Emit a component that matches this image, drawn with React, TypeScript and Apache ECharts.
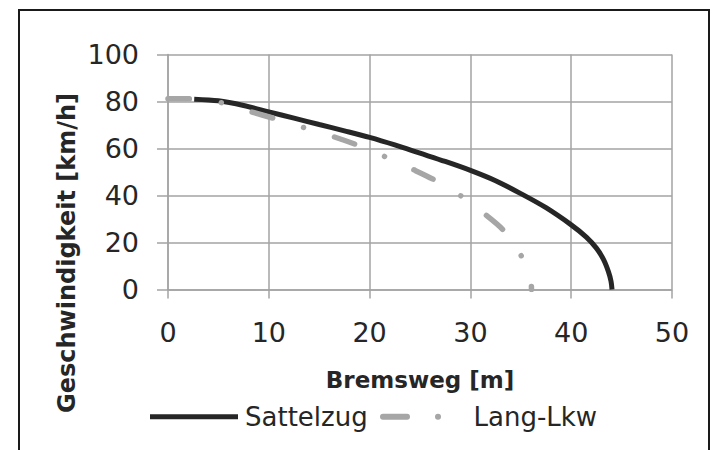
import { useEffect, useRef } from "react";
import * as echarts from "echarts";

// Bremsweg [m] vs. Geschwindigkeit [km/h]
const sattelzug: [number, number][] = [
  [2.6, 81.0], [5, 80.3], [7.5, 78.3], [10, 75.6], [12.5, 72.9], [15, 70.2],
  [17.5, 67.5], [20, 64.7], [22.5, 61.5], [25, 58.0], [27.5, 54.5], [30, 50.7],
  [32.5, 46.3], [35, 40.8], [37.5, 34.8], [40, 27.5], [41.5, 22.3], [42.5, 17.6],
  [43.2, 12.8], [43.7, 7.5], [43.95, 3.5], [44.05, 0],
];

const langLkw: [number, number][] = [
  [0, 81.2], [2.4, 81.1], [5.4, 79.4], [8.1, 75.8], [10.6, 72.7], [13.4, 69.0],
  [16.3, 65.2], [18.7, 61.6], [21.5, 56.6], [24.2, 51.3], [26.4, 46.7], [29.0, 40.0],
  [31.3, 32.5], [33.3, 25.1], [35.0, 14.7], [36.0, 3.3], [36.06, 0],
];

const seriesNames = ["Sattelzug", "Lang-Lkw"];
const xAxisTitle = "Bremsweg [m]";
const yAxisTitle = "Geschwindigkeit [km/h]";
const xMin = 0, xMax = 50, xStep = 10;
const yMin = 0, yMax = 100, yStep = 20;

const FONT = "'DejaVu Sans', sans-serif";
const GRID_COLOR = "#a3a3a3";
const TEXT = "#262626";
const BLACK = "#262626";
const GREY = "#a6a6a6";
const DASH = [21, 32.5, 0.01, 32.5];

export default function App() {
  const ref = useRef<HTMLDivElement>(null);
  useEffect(() => {
    const chart = echarts.init(ref.current!, null, { renderer: "svg" });
    chart.setOption({
      animation: false,
      backgroundColor: "#ffffff",
      grid: { left: 168, right: 40, top: 54.5, bottom: 160.5, containLabel: false },
      xAxis: {
        type: "value",
        min: xMin,
        max: xMax,
        interval: xStep,
        name: xAxisTitle,
        nameLocation: "middle",
        nameGap: 79,
        nameTextStyle: { fontFamily: FONT, fontSize: 23, fontWeight: "bold", color: TEXT },
        axisLine: { show: true, lineStyle: { color: GRID_COLOR, width: 1.5 } },
        axisTick: { show: true, length: 9, lineStyle: { color: GRID_COLOR, width: 1.5 } },
        axisLabel: { margin: 29, fontFamily: FONT, fontSize: 27, color: TEXT },
        splitLine: { show: true, lineStyle: { color: GRID_COLOR, width: 1.5 } },
      },
      yAxis: {
        type: "value",
        min: yMin,
        max: yMax,
        interval: yStep,
        axisLine: { show: true, lineStyle: { color: GRID_COLOR, width: 1.5 } },
        axisTick: { show: true, length: 11, lineStyle: { color: GRID_COLOR, width: 1.5 } },
        axisLabel: { margin: 29, fontFamily: FONT, fontSize: 27, color: TEXT },
        splitLine: { show: true, lineStyle: { color: GRID_COLOR, width: 1.5 } },
      },
      series: [
        {
          name: seriesNames[0],
          type: "line",
          data: sattelzug,
          symbol: "none",
          smooth: 0.3,
          lineStyle: { color: BLACK, width: 5 },
          itemStyle: { color: BLACK },
          z: 2,
        },
        {
          name: seriesNames[1],
          type: "line",
          data: langLkw,
          symbol: "none",
          smooth: 0.3,
          lineStyle: { color: GREY, width: 5.5, type: DASH, cap: "round", dashOffset: 0 },
          itemStyle: { color: GREY },
          z: 3,
        },
      ],
      graphic: [
        {
          type: "rect",
          silent: true,
          z: 0,
          shape: { x: 19, y: 10, width: 690, height: 470 },
          style: { fill: "none", stroke: "#1a1a1a", lineWidth: 2 },
        },
        {
          type: "text",
          x: 67,
          y: 253,
          rotation: Math.PI / 2,
          style: {
            text: yAxisTitle,
            fontFamily: FONT,
            fontSize: 24,
            fontWeight: "bold",
            fill: TEXT,
            align: "center",
            verticalAlign: "middle",
          },
        },
        {
          type: "line",
          shape: { x1: 150, y1: 416.7, x2: 238, y2: 416.7 },
          style: { stroke: BLACK, lineWidth: 5 },
        },
        {
          type: "text",
          x: 245,
          y: 417,
          style: {
            text: seriesNames[0],
            fontFamily: FONT,
            fontSize: 26,
            fill: TEXT,
            align: "left",
            verticalAlign: "middle",
          },
        },
        {
          type: "line",
          shape: { x1: 383, y1: 416.7, x2: 468, y2: 416.7 },
          style: { stroke: GREY, lineWidth: 6, lineDash: [24, 31, 0.01, 31], lineCap: "round" },
        },
        {
          type: "text",
          x: 473.5,
          y: 417,
          style: {
            text: seriesNames[1],
            fontFamily: FONT,
            fontSize: 26,
            fill: TEXT,
            align: "left",
            verticalAlign: "middle",
          },
        },
      ],
    });
    return () => chart.dispose();
  }, []);
  return (
    <div
      ref={ref}
      style={{ position: "absolute", left: 0, top: 0, width: 712, height: 450, background: "#fff" }}
    />
  );
}
